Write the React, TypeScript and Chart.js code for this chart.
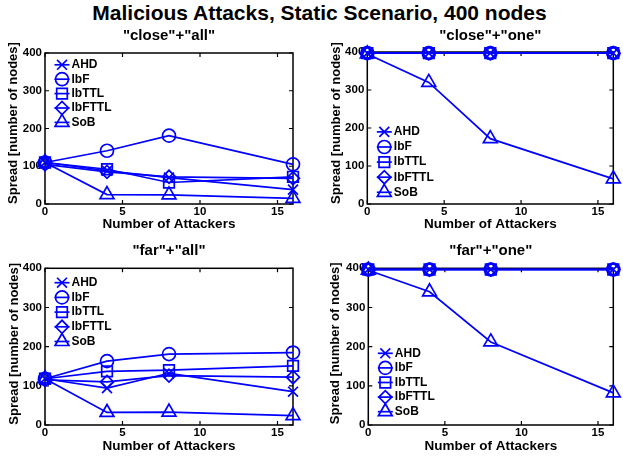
import React, { useEffect, useRef } from 'react';
import { Chart, registerables } from 'chart.js';
import { drawPoint } from 'chart.js/helpers';

Chart.register(...registerables);

// ---------------- data ----------------
const xValues = [0, 4, 8, 16];
const xTickValues = [0, 5, 10, 15];
const yTickValues = [0, 100, 200, 300, 400];
const seriesNames = ['AHD', 'IbF', 'IbTTL', 'IbFTTL', 'SoB'];
const mainTitle = 'Malicious Attacks, Static Scenario, 400 nodes';
const panelTitles = ['"close"+"all"', '"close"+"one"', '"far"+"all"', '"far"+"one"'];
const xAxisTitle = 'Number of Attackers';
const yAxisTitle = 'Spread [number of nodes]';

// "close"+"all"
const closeAllAHD = [110, 88, 70, 38];
const closeAllIbF = [110, 141, 181, 105];
const closeAllIbTTL = [110, 92, 57, 72];
const closeAllIbFTTL = [105, 85, 72, 68];
const closeAllSoB = [110, 25, 24, 15];

// "close"+"one"
const closeOneAHD = [397, 397, 397, 397];
const closeOneIbF = [397, 397, 397, 397];
const closeOneIbTTL = [397, 397, 397, 397];
const closeOneIbFTTL = [397, 397, 397, 397];
const closeOneSoB = [395, 320, 172, 66];

// "far"+"all"
const farAllAHD = [118, 94, 132, 85];
const farAllIbF = [118, 163, 181, 185];
const farAllIbTTL = [118, 137, 140, 151];
const farAllIbFTTL = [115, 110, 126, 122];
const farAllSoB = [118, 32, 33, 24];

// "far"+"one"
const farOneAHD = [397, 397, 397, 397];
const farOneIbF = [397, 397, 397, 397];
const farOneIbTTL = [397, 397, 397, 397];
const farOneIbFTTL = [397, 397, 397, 397];
const farOneSoB = [395, 340, 212, 82];

const panelSeries = [
  [closeAllAHD, closeAllIbF, closeAllIbTTL, closeAllIbFTTL, closeAllSoB],
  [closeOneAHD, closeOneIbF, closeOneIbTTL, closeOneIbFTTL, closeOneSoB],
  [farAllAHD, farAllIbF, farAllIbTTL, farAllIbFTTL, farAllSoB],
  [farOneAHD, farOneIbF, farOneIbTTL, farOneIbFTTL, farOneSoB],
];

// ---------------- styles / layout ----------------
const BLUE = '#0000ff';
const FONT = '"Liberation Sans", Arial, Helvetica, sans-serif';
const pointStyles = ['crossRot', 'circle', 'rect', 'rectRot', 'triangle'];
const pointRadii = [7, 6.5, 7.5, 6.5, 8];
const LINE_W = 1.7;

type Layout = {
  left: number; top: number; width: number; height: number;
  areaLeft: number; padRight: number; xAxisH: number;
  titlePadTop: number; titlePadBottom: number; xTitlePadBottom: number;
  yTitleX: number; yTitleY: number;
  legendAnchor: 'top' | 'bottom'; legendOffset: number; legendSpacing: number;
};

const layouts: Layout[] = [
  { left: 0, top: 25, width: 311, height: 210, areaLeft: 45, padRight: 18, xAxisH: 31,
    titlePadTop: 2, titlePadBottom: 8, xTitlePadBottom: 2.4, yTitleX: 13.5, yTitleY: 98,
    legendAnchor: 'top', legendOffset: 11.8, legendSpacing: 14.4 },
  { left: 311, top: 25, width: 312, height: 210, areaLeft: 56.3, padRight: 9.7, xAxisH: 31,
    titlePadTop: 2, titlePadBottom: 7, xTitlePadBottom: 2.4, yTitleX: 25, yTitleY: 98,
    legendAnchor: 'bottom', legendOffset: 11.7, legendSpacing: 15.1 },
  { left: 0, top: 240, width: 311, height: 217, areaLeft: 45, padRight: 18, xAxisH: 32,
    titlePadTop: 1.8, titlePadBottom: 8.5, xTitlePadBottom: 2.6, yTitleX: 14, yTitleY: 103.8,
    legendAnchor: 'top', legendOffset: 14.4, legendSpacing: 14.7 },
  { left: 311, top: 240, width: 312, height: 217, areaLeft: 57.3, padRight: 9, xAxisH: 32,
    titlePadTop: 1.8, titlePadBottom: 8.5, xTitlePadBottom: 2.6, yTitleX: 24.5, yTitleY: 103.3,
    legendAnchor: 'bottom', legendOffset: 13.3, legendSpacing: 14.6 },
];

function makeDecorPlugin(lay: Layout) {
  return {
    id: 'decor',
    beforeDatasetsDraw(chart: any) {
      const { ctx, chartArea } = chart;
      const { left, right, top, bottom } = chartArea;
      ctx.save();
      ctx.strokeStyle = '#000';
      ctx.lineWidth = 1.5;
      ctx.strokeRect(left, top, right - left, bottom - top);
      const tl = 4;
      ctx.lineWidth = 1.2;
      ctx.beginPath();
      chart.scales.x.ticks.forEach((t: any) => {
        const px = chart.scales.x.getPixelForValue(t.value);
        ctx.moveTo(px, bottom); ctx.lineTo(px, bottom - tl);
        ctx.moveTo(px, top); ctx.lineTo(px, top + tl);
      });
      chart.scales.y.ticks.forEach((t: any) => {
        const py = chart.scales.y.getPixelForValue(t.value);
        ctx.moveTo(left, py); ctx.lineTo(left + tl, py);
        ctx.moveTo(right, py); ctx.lineTo(right - tl, py);
      });
      ctx.stroke();
      ctx.restore();
    },
    afterDraw(chart: any) {
      const { ctx, chartArea } = chart;
      ctx.save();
      // y axis title
      ctx.translate(lay.yTitleX, lay.yTitleY);
      ctx.rotate(-Math.PI / 2);
      ctx.font = `bold 13px ${FONT}`;
      ctx.fillStyle = '#000';
      ctx.textAlign = 'center';
      ctx.textBaseline = 'middle';
      ctx.fillText(yAxisTitle, 0, 0);
      ctx.restore();

      // legend inside the plot
      const n = chart.data.datasets.length;
      const y0 = lay.legendAnchor === 'top'
        ? chartArea.top + lay.legendOffset
        : chartArea.bottom - lay.legendOffset - (n - 1) * lay.legendSpacing;
      ctx.save();
      ctx.font = `bold 12px ${FONT}`;
      chart.data.datasets.forEach((ds: any, i: number) => {
        const y = y0 + i * lay.legendSpacing;
        const x0 = chartArea.left + 9.5;
        const x1 = chartArea.left + 24.5;
        ctx.strokeStyle = BLUE;
        ctx.lineWidth = LINE_W;
        ctx.beginPath();
        ctx.moveTo(x0, y);
        ctx.lineTo(x1, y);
        ctx.stroke();
        ctx.fillStyle = 'rgba(0,0,0,0)';
        drawPoint(ctx, { pointStyle: ds.pointStyle, radius: ds.pointRadius, rotation: 0, borderWidth: LINE_W } as any, (x0 + x1) / 2, y);
        ctx.fillStyle = '#000';
        ctx.textAlign = 'left';
        ctx.textBaseline = 'middle';
        ctx.fillText(ds.label, chartArea.left + 26.5, y);
      });
      ctx.restore();
    },
  };
}

function Panel({ index }: { index: number }) {
  const ref = useRef<HTMLCanvasElement | null>(null);
  const lay = layouts[index];
  useEffect(() => {
    if (!ref.current) return;
    const series = panelSeries[index];
    const datasets = seriesNames.map((name, i) => ({
      label: name,
      data: xValues.map((x, j) => ({ x, y: series[i][j] })),
      borderColor: BLUE,
      borderWidth: LINE_W,
      pointStyle: pointStyles[i],
      pointRadius: pointRadii[i],
      pointBorderColor: BLUE,
      pointBackgroundColor: 'rgba(0,0,0,0)',
      pointBorderWidth: LINE_W,
      fill: false,
      tension: 0,
      clip: false,
    }));
    const tickFont = { family: FONT, size: 11.5, weight: 'bold' as const };
    const chart = new Chart(ref.current, {
      type: 'line',
      data: { datasets: datasets as any },
      options: {
        responsive: false,
        animation: false,
        devicePixelRatio: 1,
        layout: { padding: { left: 0, top: 0, right: lay.padRight, bottom: 0 } },
        scales: {
          x: {
            type: 'linear',
            position: 'bottom',
            min: 0,
            max: 16,
            grid: { display: false, drawTicks: false },
            border: { display: false },
            ticks: { font: tickFont, color: '#000', padding: 1, maxRotation: 0, autoSkip: false },
            afterBuildTicks: (s: any) => { s.ticks = xTickValues.map((v) => ({ value: v })); },
            afterFit: (s: any) => { s.height = lay.xAxisH; },
            title: {
              display: true,
              text: xAxisTitle,
              color: '#000',
              font: { family: FONT, size: 13.5, weight: 'bold' },
              padding: { top: 0, bottom: lay.xTitlePadBottom },
            },
          },
          y: {
            type: 'linear',
            min: 0,
            max: 400,
            grid: { display: false, drawTicks: false },
            border: { display: false },
            ticks: { font: tickFont, color: '#000', padding: 3 },
            afterBuildTicks: (s: any) => { s.ticks = yTickValues.map((v) => ({ value: v })); },
            afterFit: (s: any) => { s.width = lay.areaLeft; },
          },
        },
        plugins: {
          legend: { display: false },
          tooltip: { enabled: false },
          title: {
            display: true,
            text: panelTitles[index],
            color: '#000',
            fullSize: false,
            font: { family: FONT, size: 15, weight: 'bold' },
            padding: { top: lay.titlePadTop, bottom: lay.titlePadBottom },
          },
        },
      } as any,
      plugins: [makeDecorPlugin(lay)],
    });
    return () => chart.destroy();
  }, [index]);
  return (
    <canvas
      ref={ref}
      width={lay.width}
      height={lay.height}
      style={{ position: 'absolute', left: lay.left, top: lay.top, width: lay.width, height: lay.height }}
    />
  );
}

export default function App() {
  return (
    <div style={{ position: 'fixed', left: 0, top: 0, width: 623, height: 457, background: '#fff', overflow: 'hidden' }}>
      <div
        style={{
          position: 'absolute', left: 8, top: 1.5, width: 623, textAlign: 'center',
          fontFamily: FONT, fontWeight: 'bold', fontSize: 21, lineHeight: '21px', color: '#000', whiteSpace: 'nowrap',
        }}
      >
        {mainTitle}
      </div>
      {[0, 1, 2, 3].map((i) => <Panel key={i} index={i} />)}
    </div>
  );
}
